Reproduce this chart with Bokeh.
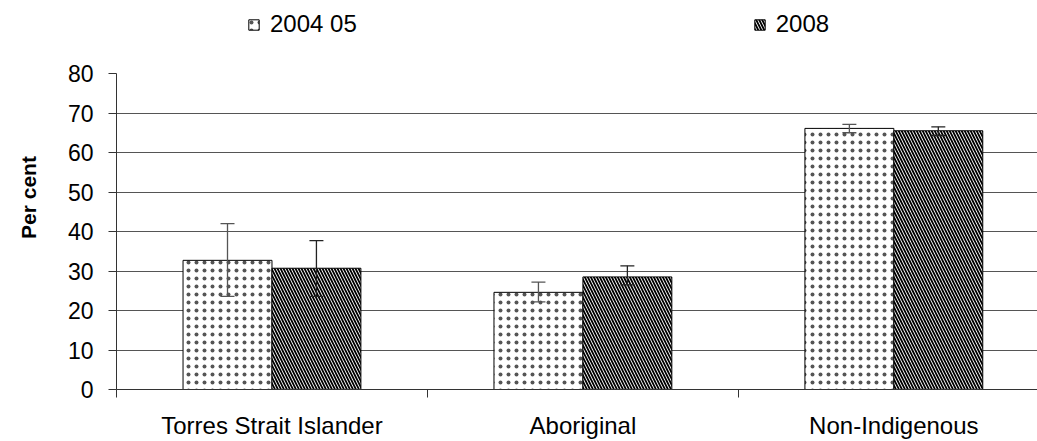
import math
from bokeh.plotting import figure
from bokeh.layouts import column, row
from bokeh.models import (ColumnDataSource, Range1d, FixedTicker, Legend, LegendItem, Label)
from bokeh.embed import file_html
from bokeh.resources import INLINE

categories = ["Torres Strait Islander", "Aboriginal", "Non-Indigenous"]
series = ["2004 05", "2008"]
values_2004 = [32.7, 24.6, 66.1]
lower_2004 = [23.6, 22.2, 65.0]
upper_2004 = [42.0, 27.2, 67.1]
values_2008 = [30.7, 28.5, 65.5]
lower_2008 = [23.6, 26.5, 64.3]
upper_2008 = [37.7, 31.3, 66.5]
y_ticks = [0, 10, 20, 30, 40, 50, 60, 70, 80]
y_title = "Per cent"

FONT = "Liberation Sans"
n = len(categories)
bar_w = 0.286
cap = 0.0225
centers = [i + 0.5 for i in range(n)]

STYLE04 = dict(fill_color="white", line_color="black", line_width=1,
               hatch_pattern="dot", hatch_color="#555555", hatch_scale=8, hatch_weight=1)
STYLE08 = dict(fill_color="white", line_color="black", line_width=1,
               hatch_pattern="left_diagonal_line", hatch_color="black", hatch_scale=6, hatch_weight=1.8)


def make_src(xs, top, lo, hi):
    return ColumnDataSource(dict(x=xs, top=top, lo=lo, hi=hi,
                                 x0=[x - cap for x in xs], x1=[x + cap for x in xs]))


def bare(fig):
    fig.outline_line_color = None
    fig.background_fill_color = "white"
    fig.border_fill_color = "white"
    fig.xgrid.grid_line_color = None
    fig.ygrid.grid_line_color = None
    return fig


src04 = make_src([c - bar_w / 2 for c in centers], values_2004, lower_2004, upper_2004)
src08 = make_src([c + bar_w / 2 for c in centers], values_2008, lower_2008, upper_2008)

# ---- header with the legend (its renderers are hidden; only the legend shows) ----
head = bare(figure(width=1037, height=50, output_backend="svg", toolbar_location=None,
                   x_range=Range1d(10, 11), y_range=Range1d(0, 1), min_border=0,
                   x_axis_location=None, y_axis_location=None))
h04 = head.vbar(x="x", top="top", width=bar_w, source=src04, **STYLE04)
h08 = head.vbar(x="x", top="top", width=bar_w, source=src08, **STYLE08)
h04.visible = False
h08.visible = False
legend = Legend(items=[LegendItem(label=series[0], renderers=[h04], index=0),
                       LegendItem(label=series[1], renderers=[h08], index=0)],
                orientation="horizontal", location=(247, 12), spacing=396,
                glyph_width=13, glyph_height=13, label_text_font=FONT,
                label_text_font_size="24px", label_text_color="black",
                border_line_color=None, background_fill_alpha=0,
                inactive_fill_alpha=0,
                padding=0, margin=0, label_standoff=10)
head.add_layout(legend)

# ---- narrow figure with the y title ----
side = bare(figure(width=40, height=391, output_backend="svg", toolbar_location=None,
                   x_range=Range1d(0, 1), y_range=Range1d(0, 1), min_border=0,
                   x_axis_location=None, y_axis_location=None))
side.add_layout(Label(x=27.5, y=192, x_units="screen", y_units="screen", text=y_title,
                      angle=math.pi / 2, text_align="center", text_baseline="middle",
                      text_font=FONT, text_font_size="21px", text_font_style="bold",
                      text_color="black"))

# ---- main chart ----
p = bare(figure(width=997, height=391, output_backend="svg", toolbar_location=None,
                x_range=Range1d(0, 2.962), y_range=Range1d(0, 80),
                min_border_left=76, min_border_right=0, min_border_top=23, min_border_bottom=50))

p.vbar(x="x", top="top", width=bar_w, source=src04, **STYLE04)
p.vbar(x="x", top="top", width=bar_w, source=src08, **STYLE08)

for src, col in ((src04, "#555555"), (src08, "#222222")):
    p.segment(x0="x", y0="lo", x1="x", y1="hi", source=src, line_color=col, line_width=1.3)
    p.segment(x0="x0", y0="hi", x1="x1", y1="hi", source=src, line_color=col, line_width=1.3)
    p.segment(x0="x0", y0="lo", x1="x1", y1="lo", source=src, line_color=col, line_width=1.3)

xa = p.xaxis[0]
xa.ticker = FixedTicker(ticks=centers, minor_ticks=list(range(n)))
xa.major_label_overrides = {c: lab for c, lab in zip(centers, categories)}
xa.major_tick_line_color = None
xa.major_tick_out = 0
xa.major_tick_in = 0
xa.minor_tick_out = 8
xa.minor_tick_in = 0
xa.minor_tick_line_color = "#333333"
xa.axis_line_color = "#333333"
xa.major_label_text_font = FONT
xa.major_label_text_font_size = "24px"
xa.major_label_text_color = "black"
xa.major_label_standoff = 14

ya = p.yaxis[0]
ya.ticker = FixedTicker(ticks=y_ticks)
ya.minor_tick_line_color = None
ya.major_tick_out = 8
ya.major_tick_in = 0
ya.major_tick_line_color = "#333333"
ya.axis_line_color = "#333333"
ya.major_label_text_font = FONT
ya.major_label_text_font_size = "23px"
ya.major_label_text_color = "black"
ya.major_label_standoff = 15

p.ygrid.grid_line_color = "#555555"
p.ygrid.grid_line_width = 1

layout = column(head, row(side, p, spacing=0), spacing=0)

open("out.html", "w").write(file_html(layout, INLINE))
